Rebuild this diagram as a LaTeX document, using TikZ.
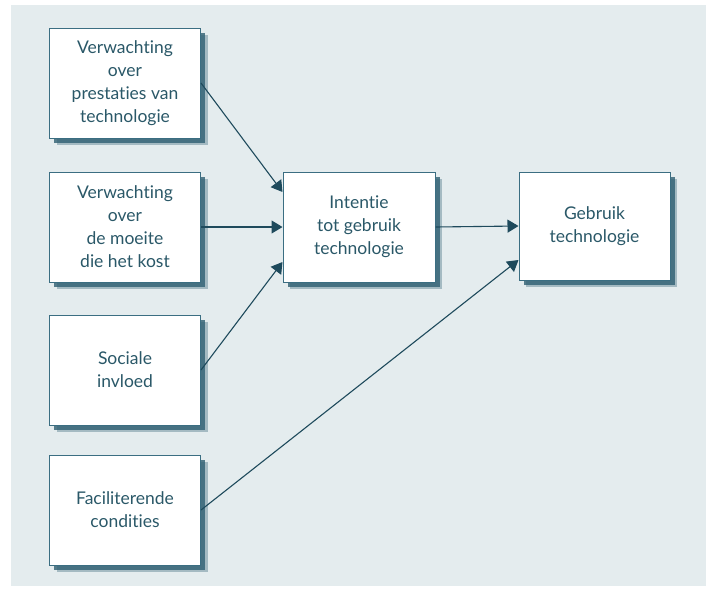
\documentclass[tikz,border=0pt]{standalone}
\usepackage{fontspec}
\setmainfont{Lato}[Ligatures=NoCommon]
\usepackage{xcolor}
\usetikzlibrary{arrows.meta}
\usetikzlibrary{shadows}
\definecolor{panelgray}{HTML}{E4ECEE}
\definecolor{boxline}{HTML}{3B6E82}
\definecolor{boxtext}{HTML}{2A5868}
\definecolor{arrowteal}{HTML}{1E4A5C}
\definecolor{shadowteal}{HTML}{2F5F72}

\tikzset{
	factor/.style={draw=boxline, line width=1pt, fill=white, minimum width=151pt,
		minimum height=110pt, align=center, text=boxtext,
		font=\fontsize{17.5}{23}\selectfont,
		general shadow={fill=shadowteal, opacity=.35, shadow xshift=7pt, shadow yshift=-7pt},
		general shadow={fill=shadowteal, opacity=.8, shadow xshift=4.5pt, shadow yshift=-4.5pt}},
	link/.style={draw=arrowteal, line width=1.1pt, -{Triangle[length=11pt,width=13pt]}}
}

\begin{document}
\begin{tikzpicture}[x=1pt, y=-1pt]
		\useasboundingbox (0,0) rectangle (708,592);
		\fill[panelgray] (11,5) rectangle (706,586);
		% linker kolom
		\node[factor] (prestatie) at (125,83) {Verwachting\\over\\prestaties van\\technologie};
		\node[factor] (moeite) at (125,227) {Verwachting\\over\\de moeite\\die het kost};
		\node[factor] (sociaal) at (125,370) {Sociale\\invloed};
		\node[factor] (facil) at (125,510) {Faciliterende\\condities};
		% midden en rechts
		\node[factor, minimum width=152pt] (intentie) at (359,227) {Intentie\\tot gebruik\\technologie};
		\node[factor, minimum height=108pt] (gebruik) at (594.5,226) {Gebruik\\technologie};
		% pijlen
		\draw[link] (prestatie.east) -- ([yshift=35pt]intentie.west);
		\draw[link] (moeite.east) -- (intentie.west);
		\draw[link] (sociaal.east) -- ([yshift=-35pt]intentie.west);
		\draw[link] (intentie.east) -- (gebruik.west);
		\draw[link] (facil.east) -- ([yshift=-34pt]gebruik.west);
	\end{tikzpicture}
\end{document}
